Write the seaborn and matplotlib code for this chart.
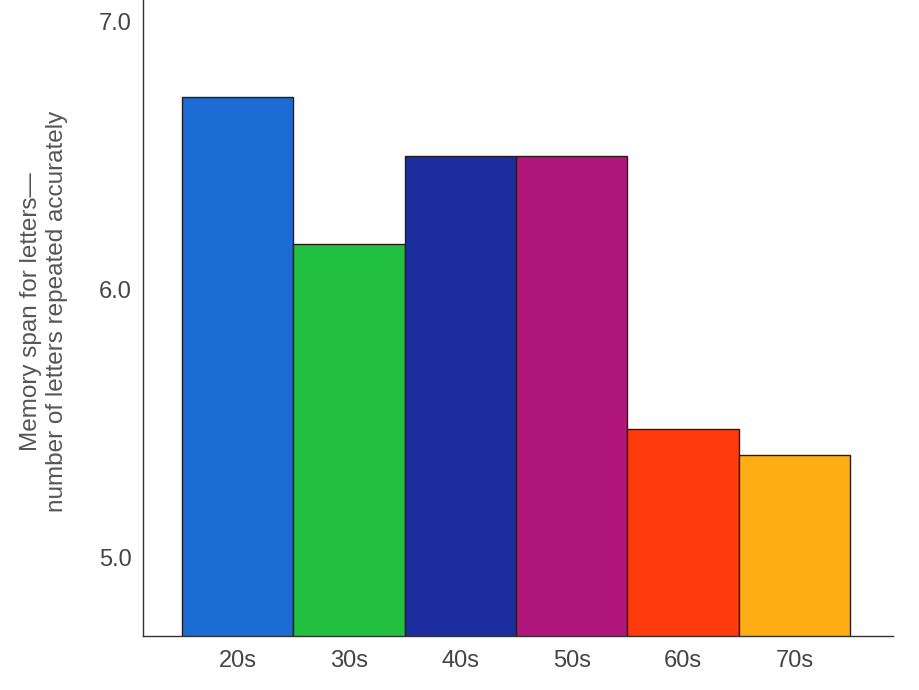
import matplotlib
matplotlib.use("Agg")
import matplotlib.pyplot as plt
import seaborn as sns
import pandas as pd

ages = ["20s", "30s", "40s", "50s", "60s", "70s"]
span = [6.72, 6.17, 6.50, 6.50, 5.48, 5.38]
colors = ["#1a6cd2", "#22c040", "#1c2e9e", "#b0167c", "#ff3a0c", "#ffad14"]

sns.set_theme(style="white")
plt.rcParams["font.family"] = ["Liberation Sans", "DejaVu Sans"]

df = pd.DataFrame({"age": ages, "span": span})

fig = plt.figure(figsize=(9.2, 6.9), dpi=100)
ax = fig.add_axes([0.1554, 0.0783, 0.8153, 0.9217])

sns.barplot(data=df, x="age", y="span", hue="age", palette=colors,
            width=1.0, edgecolor="#2a1a1a", linewidth=1.0,
            legend=False, ax=ax, saturation=1)

ax.set_ylim(4.705, 7.082)
ax.set_xlim(-0.85, 5.886)
ax.set_yticks([5.0, 6.0, 7.0])
ax.set_yticklabels(["5.0", "6.0", "7.0"])
ax.tick_params(axis="both", length=0, labelsize=17, colors="#444444")
ax.tick_params(axis="x", pad=10)
ax.tick_params(axis="y", pad=8)
ax.set_xlabel("")
ax.set_ylabel("Memory span for letters—\nnumber of letters repeated accurately",
              fontsize=17.5, color="#555555", linespacing=1.25)
ax.yaxis.set_label_coords(-0.10, 0.51)

for s in ["top", "right"]:
    ax.spines[s].set_visible(False)
for s in ["left", "bottom"]:
    ax.spines[s].set_color("#333333")
    ax.spines[s].set_linewidth(1.0)

fig.savefig("out.png", dpi=100)
